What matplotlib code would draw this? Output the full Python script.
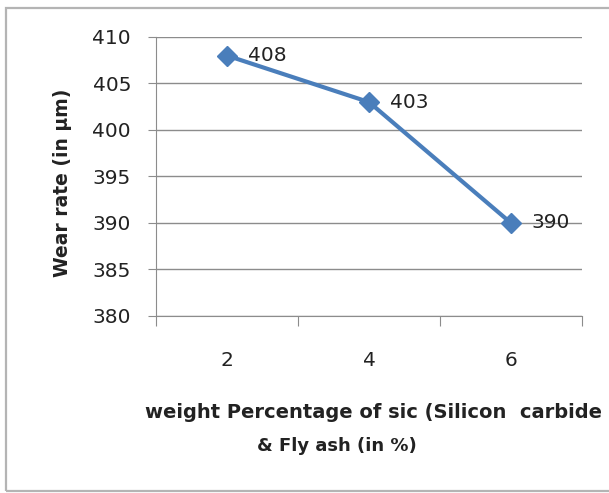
import matplotlib.pyplot as plt
from matplotlib.patches import Rectangle

# wear rate against reinforcement content
categories = ['2', '4', '6']
wear_rate = [408, 403, 390]
y_ticks = [380, 385, 390, 395, 400, 405, 410]

plt.rcParams['font.family'] = ['DejaVu Sans']

fig = plt.figure(figsize=(6.09, 4.93), dpi=100)

# chart area frame
fig.patches.append(Rectangle((6 / 609, 2 / 493), 1.0, 483 / 493, transform=fig.transFigure,
                             fill=False, edgecolor='#b4b4b4', linewidth=1.6))

ax = fig.add_axes([156 / 609, 177 / 493, 426 / 609, 279 / 493])

xs = list(range(len(categories)))
ax.plot(xs, wear_rate, color='#4a7ebb', linewidth=3, marker='D', markersize=10, zorder=3)
for x, v in zip(xs, wear_rate):
    ax.annotate(str(v), (x, v), xytext=(15, 0), textcoords='offset points',
                va='center', ha='left', fontsize=14.5, color='#222222')

ax.set_xlim(-0.5, 2.5)
ax.set_ylim(380, 410)
ax.set_yticks(y_ticks)
ax.yaxis.grid(True, color='#8c8c8c', linewidth=1)
ax.set_axisbelow(True)

# category ticks sit between the categories
ax.set_xticks([-0.5, 0.5, 1.5, 2.5])
ax.set_xticklabels([])
ax.set_xticks(xs, minor=True)
ax.set_xticklabels(categories, minor=True, fontsize=14.5, color='#222222')
ax.tick_params(axis='x', which='major', length=7, color='#8c8c8c', direction='out')
ax.tick_params(axis='x', which='minor', length=0, pad=25)
ax.tick_params(axis='y', length=6, color='#8c8c8c', labelsize=14.5, labelcolor='#222222', pad=12)

for s in ['top', 'right']:
    ax.spines[s].set_visible(False)
for s in ['left', 'bottom']:
    ax.spines[s].set_color('#8c8c8c')

fig.text(62 / 609, 1 - 183 / 493, 'Wear rate (in \u00b5m)', rotation=90,
         fontsize=13.5, fontweight='bold', ha='center', va='center', color='#222222')

fig.text(145 / 609, 1 - 412 / 493, 'weight Percentage of sic (Silicon  carbide',
         fontsize=14, fontweight='bold', ha='left', va='center', color='#222222')
fig.text(337 / 609, 1 - 446 / 493, '& Fly ash (in %)',
         fontsize=13, fontweight='bold', ha='center', va='center', color='#222222')

fig.savefig('out.png', dpi=100)
